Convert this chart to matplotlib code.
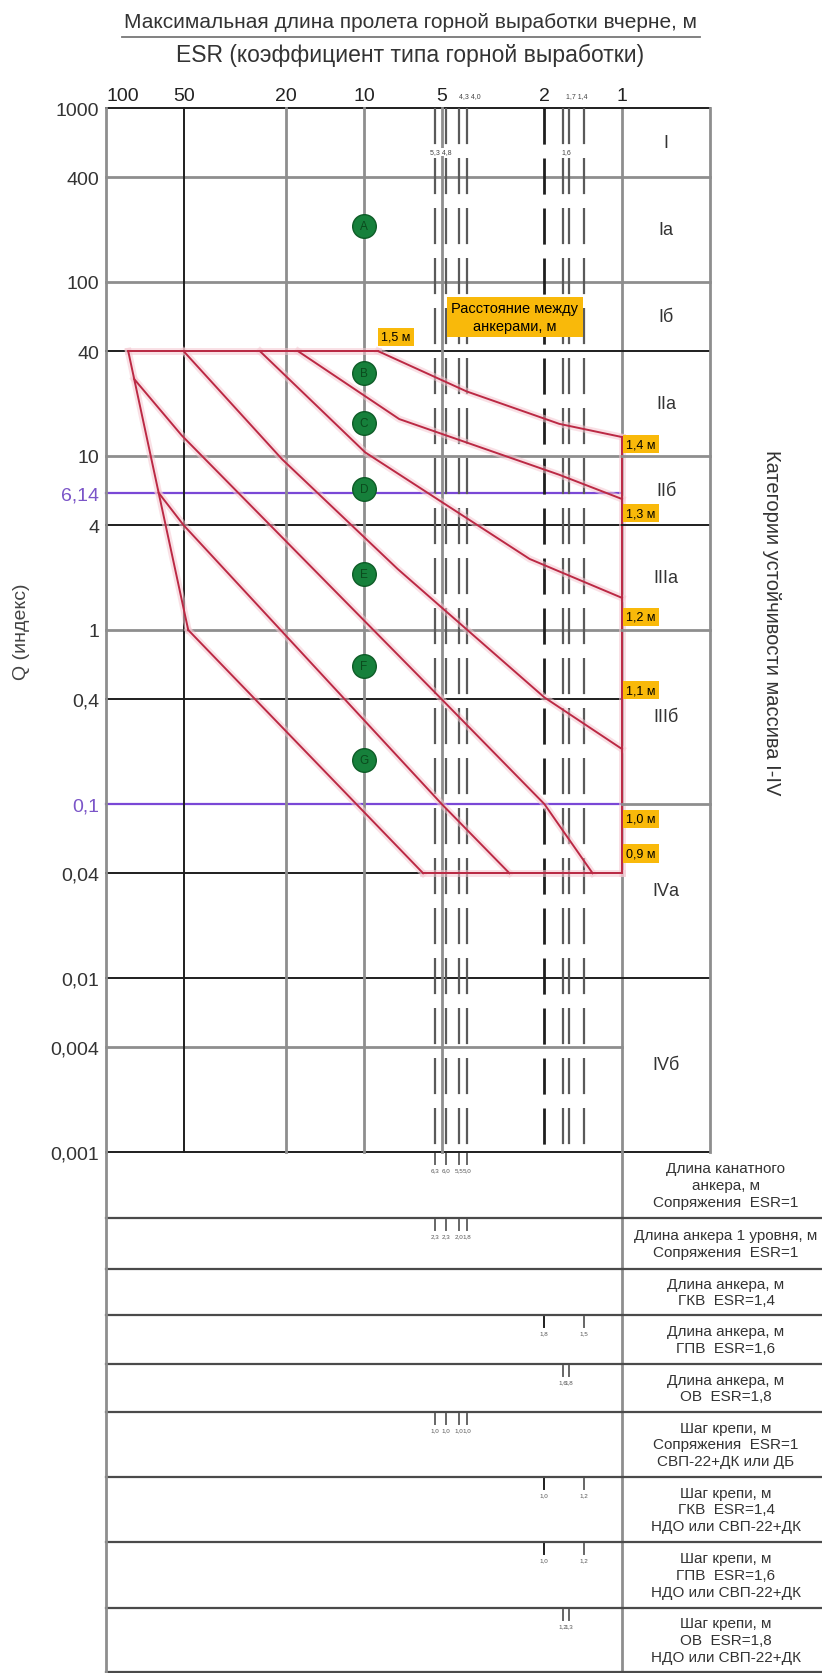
import numpy as np
import matplotlib.pyplot as plt
from matplotlib.lines import Line2D

plt.rcParams['font.family'] = ['Liberation Sans', 'DejaVu Sans']
plt.rcParams['lines.scale_dashes'] = False

# --- ESR scale (top axis) ---
esr_ticks = [100, 50, 20, 10, 5, 2, 1]
esr_tick_labels = ['100', '50', '20', '10', '5', '2', '1']
esr_gray = [100, 20, 10, 5, 1]
esr_black = [50]
esr_dashed_black = [2]
esr_dashed = [5.3, 4.8, 4.3, 4.0, 1.7, 1.6, 1.4]

# --- Q scale (left axis) ---
q_ticks = [1000, 400, 100, 40, 10, 6.14, 4, 1, 0.4, 0.1, 0.04, 0.01, 0.004, 0.001]
q_tick_labels = ['1000', '400', '100', '40', '10', '6,14', '4', '1', '0,4', '0,1',
                 '0,04', '0,01', '0,004', '0,001']
q_black = [1000, 40, 4, 0.4, 0.04, 0.01, 0.001]
q_gray = [400, 100, 10, 1, 0.004]
q_purple = [6.14, 0.1]

# --- rock mass stability categories ---
cat_bounds = [1000, 400, 100, 40, 10, 4, 1, 0.1, 0.01, 0.001]
cat_labels = ['I', 'Iа', 'Iб', 'IIа', 'IIб', 'IIIа', 'IIIб', 'IVа', 'IVб']

# --- anchor spacing network, (ESR, Q) vertices ---
frame_top_e, frame_top_q = [82, 8.8], [40, 40]
frame_left_e, frame_left_q = [82, 62.5, 48], [40, 6.14, 1]
frame_bottom_e, frame_bottom_q = [5.9, 1.0], [0.04, 0.04]
frame_right_e, frame_right_q = [1.0, 1.0], [12.85, 0.04]
line_a_e, line_a_q = [8.8, 4.0, 1.75, 1.0], [40, 23.5, 15.3, 12.85]
line_b_e, line_b_q = [18, 7.3, 1.75, 1.0], [40, 16.3, 7.8, 5.66]
line_c_e, line_c_q = [25.3, 9.9, 2.28, 1.0], [40, 10.5, 2.56, 1.53]
line_d_e, line_d_q = [50, 20.8, 7.4, 2.0, 1.0], [40, 9.6, 2.24, 0.41, 0.207]
line_e_e, line_e_q = [77.8, 50.8, 5.0, 2.0, 1.3], [27.7, 13.1, 0.4, 0.1, 0.04]
line_f_e, line_f_q = [62.5, 50, 5.0, 2.73], [6.14, 4, 0.1, 0.04]
line_g_e, line_g_q = [48, 5.9], [1, 0.04]

# --- example workings (ESR = 10) ---
point_labels = ['A', 'B', 'C', 'D', 'E', 'F', 'G']
point_esr = 10
point_q = [210, 30, 15.5, 6.5, 2.1, 0.62, 0.18]

# --- anchor spacing labels ---
spacing_labels = ['1,4 м', '1,3 м', '1,2 м', '1,1 м', '1,0 м', '0,9 м']
spacing_label_q = [11.7, 4.7, 1.19, 0.45, 0.082, 0.052]

# --- table under the chart ---
row_texts = [
    'Длина канатного\nанкера, м\nСопряжения  ESR=1',
    'Длина анкера 1 уровня, м\nСопряжения  ESR=1',
    'Длина анкера, м\nГКВ  ESR=1,4',
    'Длина анкера, м\nГПВ  ESR=1,6',
    'Длина анкера, м\nОВ  ESR=1,8',
    'Шаг крепи, м\nСопряжения  ESR=1\nСВП-22+ДК или ДБ',
    'Шаг крепи, м\nГКВ  ESR=1,4\nНДО или СВП-22+ДК',
    'Шаг крепи, м\nГПВ  ESR=1,6\nНДО или СВП-22+ДК',
    'Шаг крепи, м\nОВ  ESR=1,8\nНДО или СВП-22+ДК',
]
row_tick_esr = [
    [5.3, 4.8, 4.3, 4.0],
    [5.3, 4.8, 4.3, 4.0],
    [],
    [2, 1.4],
    [1.7, 1.6],
    [5.3, 4.8, 4.3, 4.0],
    [2, 1.4],
    [2, 1.4],
    [1.7, 1.6],
]
row_tick_labels = [
    ['6,3', '6,0', '5,5', '5,0'],
    ['2,3', '2,3', '2,0', '1,8'],
    [],
    ['1,8', '1,5'],
    ['1,6', '1,8'],
    ['1,0', '1,0', '1,0', '1,0'],
    ['1,0', '1,2'],
    ['1,0', '1,2'],
    ['1,2', '1,3'],
]

GRAY = '#8e8e8e'
BLACK = '#1e1e1e'
RED = '#bb2944'
HALO = '#f5c8d1'
PURPLE = '#7a48d6'
ORANGE = '#f9b90a'
GREEN = '#16803b'

W, H = 822.0, 1674.0
XL, XR, XC, XE = 106, 622, 710, 822
YT, YB, YE = 109, 1153, 1673
row_edges = [0, 66, 117, 163, 212, 260, 325, 390, 456, 520]


def box(x0, y0, x1, y1):
    return [x0 / W, 1 - y1 / H, (x1 - x0) / W, (y1 - y0) / H]


fig = plt.figure(figsize=(W / 100, H / 100), dpi=100)

# main Q / ESR chart
ax = fig.add_axes(box(XL, YT, XR, YB))
ax.set_xscale('log')
ax.set_yscale('log')
ax.set_xlim(100, 1)
ax.set_ylim(0.001, 1000)
ax.minorticks_off()
for sp in ax.spines.values():
    sp.set_visible(False)

for q in q_gray:
    ax.plot([100, 1], [q, q], color=GRAY, lw=2.0, zorder=1, clip_on=False)
for q in q_black:
    ax.plot([100, 1], [q, q], color=BLACK, lw=1.4, zorder=1, clip_on=False)
for q in q_purple:
    ax.plot([100, 1], [q, q], color=PURPLE, lw=1.6, zorder=1, clip_on=False)

for e in esr_gray:
    ax.plot([e, e], [1000, 0.001], color=GRAY, lw=2.0, zorder=1, clip_on=False)
for e in esr_black:
    ax.plot([e, e], [1000, 0.001], color=BLACK, lw=1.4, zorder=1, clip_on=False)
for e in esr_dashed:
    ax.plot([e, e], [1000, 0.001], color='#5a5a5a', lw=1.6, dashes=(26, 10), zorder=1)
for e in esr_dashed_black:
    ax.plot([e, e], [1000, 0.001], color=BLACK, lw=2.0, dashes=(26, 10), zorder=1)

red_paths = [
    (frame_top_e, frame_top_q), (frame_left_e, frame_left_q),
    (frame_bottom_e, frame_bottom_q), (frame_right_e, frame_right_q),
    (line_a_e, line_a_q), (line_b_e, line_b_q), (line_c_e, line_c_q),
    (line_d_e, line_d_q), (line_e_e, line_e_q), (line_f_e, line_f_q),
    (line_g_e, line_g_q),
]
for es, qs in red_paths:
    ax.plot(es, qs, color=HALO, lw=5, alpha=0.55, zorder=2, clip_on=False)
for es, qs in red_paths:
    ax.plot(es, qs, color=RED, lw=1.4, zorder=3, clip_on=False)

for lab, q in zip(point_labels, point_q):
    ax.plot(point_esr, q, 'o', ms=17, mfc=GREEN, mec='#0e5c27', mew=1, zorder=5)
    ax.text(point_esr, q, lab, ha='center', va='center', fontsize=8.5,
            color='#0b4a1d', zorder=6)

for lab, q in zip(spacing_labels, spacing_label_q):
    ax.annotate(lab, (1, q), xytext=(3, 0), textcoords='offset points',
                ha='left', va='center', fontsize=9, zorder=6, annotation_clip=False,
                bbox=dict(boxstyle='square,pad=0.25', fc=ORANGE, ec='none'))
ax.annotate('1,5 м', (frame_top_e[1], frame_top_q[1]), xytext=(2, 6),
            textcoords='offset points', ha='left', va='bottom', fontsize=9, zorder=6,
            bbox=dict(boxstyle='square,pad=0.25', fc=ORANGE, ec='none'))
ax.text(2.6, 63, 'Расстояние между\nанкерами, м', ha='center', va='center',
        fontsize=10.5, linespacing=1.35, zorder=6,
        bbox=dict(boxstyle='square,pad=0.3', fc=ORANGE, ec='none'))

# small values of the dashed ESR lines
ax.annotate('4,3 4,0', (4.15, 1000), xytext=(5, 9), textcoords='offset points',
            ha='center', va='center', fontsize=5, color='#444', annotation_clip=False)
ax.annotate('1,7 1,4', (1.55, 1000), xytext=(3, 9), textcoords='offset points',
            ha='center', va='center', fontsize=5, color='#444', annotation_clip=False)
ax.annotate('5,3 4,8', (5.05, 560), xytext=(0, 0), textcoords='offset points',
            ha='center', va='center', fontsize=5, color='#444',
            bbox=dict(boxstyle='square,pad=0.1', fc='white', ec='none'), zorder=4)
ax.annotate('1,6', (1.65, 560), xytext=(0, 0), textcoords='offset points',
            ha='center', va='center', fontsize=5, color='#444',
            bbox=dict(boxstyle='square,pad=0.1', fc='white', ec='none'), zorder=4)

ax.set_yticks(q_ticks)
ax.set_yticklabels(q_tick_labels, fontsize=14, color='#333')
for t, q in zip(ax.get_yticklabels(), q_ticks):
    if q in q_purple:
        t.set_color('#7b55c8')
ax.xaxis.tick_top()
ax.set_xticks(esr_ticks)
ax.set_xticklabels(esr_tick_labels, fontsize=14, color='#222')
ax.get_xticklabels()[0].set_ha('left')
ax.tick_params(axis='both', length=0)
ax.tick_params(axis='y', pad=5)
ax.tick_params(axis='x', pad=3)

# category column
axc = fig.add_axes(box(XR, YT, XC, YB))
axc.set_yscale('log')
axc.set_ylim(0.001, 1000)
axc.set_xlim(0, 1)
axc.axis('off')
for q in cat_bounds:
    col, lw = (BLACK, 1.4) if q in q_black else (GRAY, 2.0)
    axc.plot([0, 1], [q, q], color=col, lw=lw, clip_on=False)
axc.plot([1, 1], [0.001, 1000], color=GRAY, lw=2.0, clip_on=False)
for lab, hi, lo in zip(cat_labels, cat_bounds[:-1], cat_bounds[1:]):
    axc.text(0.5, np.sqrt(hi * lo), lab, ha='center', va='center', fontsize=13,
             color='#333')

# table: left part on the ESR scale, right part with captions
axt = fig.add_axes(box(XL, YB, XR, YE))
axt.set_xscale('log')
axt.set_xlim(100, 1)
axt.set_ylim(YE - YB, 0)
axt.axis('off')
axr = fig.add_axes(box(XR, YB, XE, YE))
axr.set_xlim(0, 1)
axr.set_ylim(YE - YB, 0)
axr.axis('off')

for y in row_edges[1:]:
    axt.plot([100, 1], [y, y], color='#4a4a4a', lw=1.6, clip_on=False)
    axr.plot([0, 1], [y, y], color='#4a4a4a', lw=1.6, clip_on=False)
axt.plot([100, 100], [0, YE - YB], color=GRAY, lw=2.0, clip_on=False)
axt.plot([1, 1], [0, YE - YB], color=GRAY, lw=2.0, clip_on=False)

for i, txt in enumerate(row_texts):
    top, bot = row_edges[i], row_edges[i + 1]
    axr.text(0.52, (top + bot) / 2, txt, ha='center', va='center', fontsize=11,
             linespacing=1.25, color='#333')
    for e, lab in zip(row_tick_esr[i], row_tick_labels[i]):
        col = BLACK if e in esr_dashed_black else '#666'
        axt.plot([e, e], [top + 2, top + 12], color=col, lw=1.4, clip_on=False)
        axt.text(e, top + 18, lab, ha='center', va='center', fontsize=4.5,
                 color='#555')

# titles and side captions
fig.text(410 / W, 1 - 22 / H, 'Максимальная длина пролета горной выработки вчерне, м',
         ha='center', va='center', fontsize=15, color='#333')
fig.add_artist(Line2D([122 / W, 700 / W], [1 - 38 / H, 1 - 38 / H], color='#777', lw=1.3))
fig.text(410 / W, 1 - 55 / H, 'ESR (коэффициент типа горной выработки)',
         ha='center', va='center', fontsize=16.5, color='#333')
fig.text(22 / W, 1 - 632 / H, 'Q (индекс)', rotation=90, ha='center', va='center',
         fontsize=14, color='#444')
fig.text(771 / W, 1 - 623 / H, 'Категории устойчивости массива I-IV', rotation=270,
         ha='center', va='center', fontsize=14.5, color='#333')

fig.savefig('out.png', dpi=100)
